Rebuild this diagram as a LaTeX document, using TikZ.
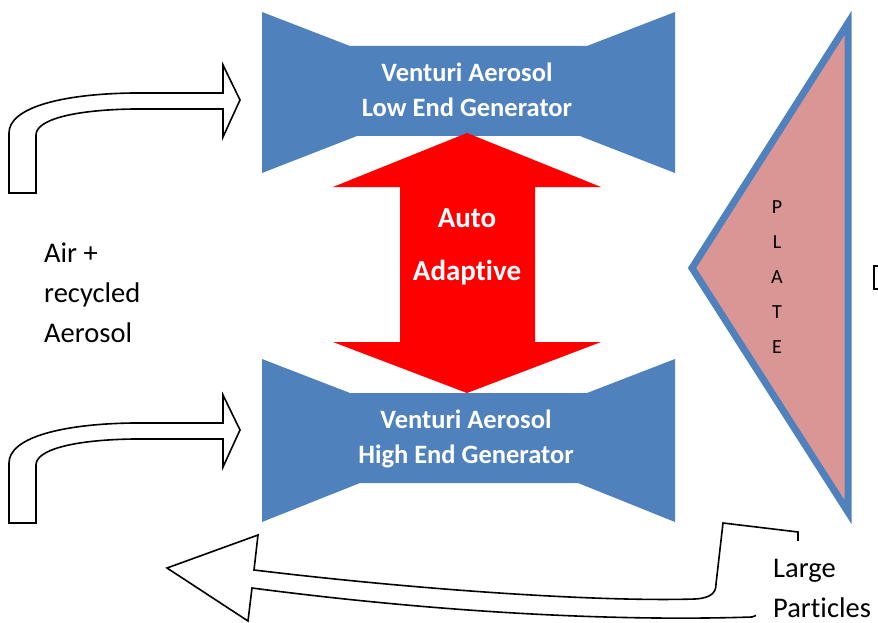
\documentclass[tikz,border=0pt]{standalone}
\usepackage{fontspec}
\setmainfont{Carlito}[Ligatures=NoCommon]
\usetikzlibrary{positioning}

\definecolor{venturiblue}{HTML}{4F81BD}
\definecolor{platepink}{HTML}{D99694}

\tikzset{
  venturi/.style={fill=venturiblue, draw=none},
  bentarrow/.style={draw=black, line width=1.6pt, fill=white, line join=miter},
  whitelabel/.style={text=white, font=\bfseries\fontsize{26.5}{35}\selectfont, align=center},
  sidelabel/.style={font=\fontsize{28.5}{40}\selectfont, align=left, inner sep=0pt}
}

\begin{document}
\begin{tikzpicture}[x=1pt, y=-1pt]
\useasboundingbox (0,0) rectangle (878,623);

% the two venturi generators
\fill[venturi] (262,12) -- (350,46) -- (587,46) -- (675,12) -- (675,173) -- (580,136) -- (357,136) -- (262,173) -- cycle;
\fill[venturi] (262,359) -- (350,393) -- (587,393) -- (675,359) -- (675,522) -- (578,483) -- (360,483) -- (262,522) -- cycle;

% auto adaptive double arrow
\fill[red] (467,133) -- (601,187) -- (535,187) -- (535,342) -- (601,342) -- (467,393) -- (333,342) -- (400,342) -- (400,187) -- (333,187) -- cycle;

\node[whitelabel] (low) at (467,90) {Venturi Aerosol\\Low End Generator};
\node[whitelabel] (high) at (466,439) {Venturi Aerosol\\High End Generator};
\node[whitelabel, font=\bfseries\fontsize{29}{53}\selectfont] (auto) at (467,247) {Auto\\Adaptive};

% plate
\filldraw[fill=platepink, draw=venturiblue, line width=7pt] (692,268) -- (848,23) -- (848,512) -- cycle;
\node[font=\fontsize{20}{35}\selectfont, align=center] (plate) at (777,277) {P\\L\\A\\T\\E};

% inlet arrows
\draw[bentarrow] (9,193) -- (9,133) .. controls (9,108) and (60,94) .. (133,93) -- (223,93) -- (223,65) -- (240,100) -- (223,137) -- (223,109) -- (133,109) .. controls (72,110) and (36,120) .. (36,135) -- (36,193) -- cycle;
\draw[bentarrow] (9,523) -- (9,463) .. controls (9,438) and (60,424) .. (133,423) -- (223,423) -- (223,395) -- (240,430) -- (223,467) -- (223,439) -- (133,439) .. controls (72,440) and (36,450) .. (36,465) -- (36,523) -- cycle;

\node[sidelabel, anchor=west] (air) at (44,293) {Air +\\recycled\\Aerosol};

% return arrow for large particles
\draw[bentarrow] (167,568) -- (258,535) -- (254,570) .. controls (420,590) and (600,602) .. (695,599) .. controls (712,598) and (716,592) .. (716,584) -- (723,523) -- (798,532) -- (798,600) -- (752,617) .. controls (600,622) and (420,610) .. (252,588) -- (248,621) -- cycle;
\node[sidelabel, fill=white, anchor=north west, inner sep=0pt, minimum width=130pt, minimum height=90pt, text depth=0pt] (large) at (756,541) {};
\node[sidelabel, anchor=west] (largetext) at (773,588) {Large\\Particles};

% cut off box at the edge
\draw[line width=1.3pt] (879,266) -- (874,266) -- (874,289) -- (879,289);
\end{tikzpicture}
\end{document}
